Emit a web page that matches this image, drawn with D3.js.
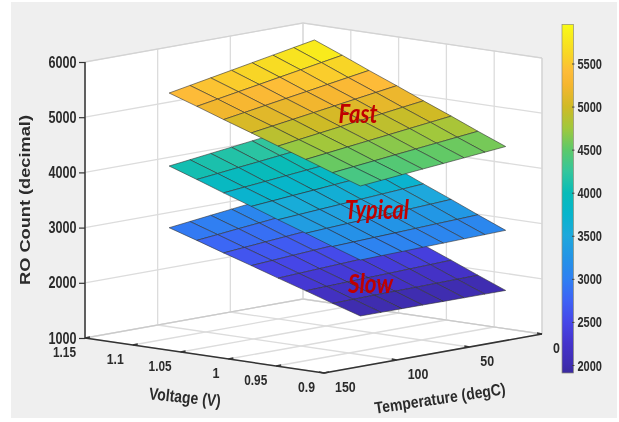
<!DOCTYPE html>
<html>
<head>
<meta charset="utf-8">
<script src="https://cdn.jsdelivr.net/npm/d3@7"></script>
<style>
html,body{margin:0;padding:0;background:#fff}
svg{display:block;filter:blur(0.45px)}
text{font-family:"Liberation Sans",Arial,sans-serif;fill:#2b2b2b}
</style>
</head>
<body>
<svg id="chart" width="619" height="422"></svg>
<script>
const temperatureTicks = [150, 100, 50, 0];
const voltageTicks = [1.15, 1.1, 1.05, 1, 0.95, 0.9];
const zTicks = [1000, 2000, 3000, 4000, 5000, 6000];
const colorbarTicks = [2000, 2500, 3000, 3500, 4000, 4500, 5000, 5500];

const temperatures = [25, 39.3, 53.6, 67.9, 82.1, 96.4, 110.7, 125];
const voltages = [1.1, 1.071, 1.043, 1.014, 0.986, 0.957, 0.929, 0.9];

const slowCounts = [
  [3320,3275,3231,3186,3141,3097,3052,3007],
  [3118,3080,3042,3004,2965,2928,2889,2851],
  [2916,2884,2853,2821,2790,2759,2727,2695],
  [2714,2689,2664,2639,2614,2590,2564,2539],
  [2512,2494,2475,2457,2439,2421,2402,2383],
  [2310,2298,2286,2274,2263,2252,2239,2227],
  [2109,2103,2098,2092,2088,2083,2077,2071],
  [1907,1908,1909,1910,1912,1913,1914,1915]
];
const typicalCounts = [
  [4450,4404,4357,4311,4264,4218,4171,4125],
  [4242,4201,4160,4119,4077,4037,3995,3954],
  [4035,3999,3963,3927,3891,3855,3819,3783],
  [3827,3796,3766,3735,3704,3674,3643,3612],
  [3619,3593,3569,3543,3517,3493,3467,3441],
  [3412,3391,3372,3351,3331,3311,3291,3270],
  [3204,3188,3175,3159,3144,3130,3115,3100],
  [2996,2986,2977,2967,2958,2948,2939,2929]
];
const fastCounts = [
  [5937,5867,5797,5727,5657,5587,5517,5447],
  [5734,5669,5604,5539,5474,5409,5344,5279],
  [5530,5470,5410,5350,5291,5231,5171,5111],
  [5327,5272,5217,5162,5108,5053,4998,4943],
  [5124,5074,5024,4974,4925,4875,4825,4775],
  [4921,4876,4831,4786,4742,4697,4652,4607],
  [4717,4677,4637,4597,4558,4518,4478,4438],
  [4514,4479,4444,4409,4375,4340,4305,4270]
];
const surfaceLabels = ["Fast", "Typical", "Slow"];
const colorStops = [1907,2000,2250,2500,2750,3000,3250,3500,3750,4000,4250,4500,4750,5000,5250,5400,5600,5953];
const colorValues = ["#3b2a9e","#3f2db0","#4533cc","#4646e8","#3e62f5","#2f80f2","#2394e6","#1ea8dc","#07b5cc","#08bcb8","#34c69c","#5cc96a","#a0c83c","#d0ba25","#f5b62f","#fdbb38","#f8d526","#f9fb15"];

const svg = d3.select("#chart");
const color = d3.scaleLinear().domain(colorStops).range(colorValues).clamp(true);

// oblique projection scales
const tX = d3.scaleLinear().domain([150, 0]).range([0, 218]);
const tY = d3.scaleLinear().domain([150, 0]).range([0, -39]);
const vX = d3.scaleLinear().domain([1.15, 0.9]).range([0, 239]);
const vY = d3.scaleLinear().domain([1.15, 0.9]).range([0, 35]);
const zY = d3.scaleLinear().domain([1000, 6000]).range([338, 62]);
const X0 = 85;
const project = (t, v, z) => [X0 + tX(t) + vX(v), zY(z) + tY(t) + vY(v)];
const line = d3.line();

svg.append("rect").attr("x", 11).attr("y", 2).attr("width", 606).attr("height", 416).attr("fill", "#efefef");

// box walls and floor
const tA = 150, tB = 0, vA = 1.15, vB = 0.9, zA = 1000, zB = 6000;
svg.append("path").attr("fill", "#fff").attr("d", line([
  project(tA, vA, zB), project(tB, vA, zB), project(tB, vB, zB),
  project(tB, vB, zA), project(tA, vB, zA), project(tA, vA, zA)
]) + "Z");

const gridG = svg.append("g").attr("fill", "none").attr("stroke", "#dcdcdc").attr("stroke-width", 1.3);
const seg = (g, pts, c, w) => g.append("path").attr("d", line(pts)).attr("stroke", c || null).attr("stroke-width", w || null);
zTicks.forEach(z => {
  seg(gridG, [project(tA, vA, z), project(tB, vA, z), project(tB, vB, z)]);
});
temperatureTicks.forEach(t => {
  seg(gridG, [project(t, vA, zA), project(t, vA, zB)]);
  seg(gridG, [project(t, vA, zA), project(t, vB, zA)]);
});
voltageTicks.forEach(v => {
  seg(gridG, [project(tB, v, zA), project(tB, v, zB)]);
  seg(gridG, [project(tA, v, zA), project(tB, v, zA)]);
});
seg(gridG, [project(tA, vA, zA), project(tB, vA, zA), project(tB, vB, zA)], "#c8c8c8", 1);
seg(gridG, [project(tA, vA, zB), project(tB, vA, zB), project(tB, vB, zB)], "#d2d2d2", 1);
seg(gridG, [project(tB, vB, zA), project(tB, vB, zB)], "#d2d2d2", 1);

// surfaces, lowest first, cells back to front
[slowCounts, typicalCounts, fastCounts].forEach(grid => {
  const g = svg.append("g").attr("stroke", "#333").attr("stroke-width", 0.6).attr("stroke-linejoin", "round");
  for (let i = 0; i < voltages.length - 1; i++) {
    for (let j = 0; j < temperatures.length - 1; j++) {
      const c = [[i, j], [i, j + 1], [i + 1, j + 1], [i + 1, j]];
      const mean = d3.mean(c, ([a, b]) => grid[a][b]);
      g.append("path")
        .attr("fill", color(mean))
        .attr("d", line(c.map(([a, b]) => project(temperatures[b], voltages[a], grid[a][b]))) + "Z");
    }
  }
});

// stretched text helper
function label(txt, x, y, opt) {
  const o = opt || {};
  const t = svg.append("text")
    .attr("transform", `translate(${x},${y}) rotate(${o.rotate || 0})`)
    .attr("text-anchor", o.anchor || "middle")
    .attr("dominant-baseline", o.baseline || "central")
    .attr("font-size", o.size || 14)
    .attr("font-weight", o.weight || 700)
    .text(txt);
  if (o.len) t.attr("textLength", o.len).attr("lengthAdjust", "spacingAndGlyphs");
  if (o.fill) t.style("fill", o.fill);
  if (o.italic) t.style("font-style", "italic");
  if (o.family) t.style("font-family", o.family);
  return t;
}

// axis lines
const axisG = svg.append("g").attr("fill", "none").attr("stroke", "#333");
const zAxis = d3.axisLeft(zY).tickValues(zTicks).tickSize(6).tickFormat("");
const zg = svg.append("g").attr("transform", `translate(${X0},0)`).call(zAxis);
zg.selectAll("line").attr("stroke", "#333").attr("stroke-width", 1.2);
zg.select(".domain").attr("stroke", "#333").attr("stroke-width", 1.5).attr("d", `M0,${zY(6000)}V${zY(1000)}`);
seg(axisG, [project(tA, vA, zA), project(tA, vB, zA), project(tB, vB, zA)], "#333", 1.5);
voltageTicks.forEach(v => {
  const p = project(tA, v, zA);
  seg(axisG, [p, [p[0] + 5, p[1] - 1]], "#333", 1.3);
  label(String(v), p[0] - 9, p[1] + 13.5, { anchor: "end", size: 15.5, len: String(v).length === 1 ? 7 : (String(v).length === 3 ? 17 : 23) });
});
temperatureTicks.forEach(t => {
  const p = project(t, vB, zA);
  seg(axisG, [p, [p[0] - 5, p[1] - 1]], "#333", 1.3);
  label(String(t), p[0] + 11, p[1] + 13, { anchor: "start", size: 15.5, len: String(t).length * 6.9 });
});
zTicks.forEach(z => {
  label(String(z), X0 - 8.5, zY(z), { anchor: "end", size: 16, len: 28 });
});

label("RO Count (decimal)", 24, 200, { rotate: -90, size: 15.5, len: 170 });
label("Voltage (V)", 185, 397.5, { rotate: 6, size: 17, len: 72 });
label("Temperature (degC)", 440, 398, { rotate: -8.5, size: 16.5, len: 132 });

// colour bar
const barY = d3.scaleLinear().domain([2000, 5500]).range([365, 63.5]);
const barX = 562, barW = 11.5;
const barTop = barY(5953), barBottom = barY(1907);
const defs = svg.append("defs");
const grad = defs.append("linearGradient").attr("id", "bar").attr("x1", 0).attr("x2", 0).attr("y1", 1).attr("y2", 0);
const span = d3.scaleLinear().domain([1907, 5953]).range([0, 1]);
colorStops.forEach((s, i) => grad.append("stop").attr("offset", span(s)).attr("stop-color", colorValues[i]));
svg.append("rect").attr("x", barX).attr("y", barTop).attr("width", barW).attr("height", barBottom - barTop)
  .attr("fill", "url(#bar)").attr("stroke", "#8f8f7a").attr("stroke-width", 0.7);
const barAxis = d3.axisRight(barY).tickValues(colorbarTicks).tickSize(2.5).tickFormat("");
const bg = svg.append("g").attr("transform", `translate(${barX + barW - 1.5},0)`).call(barAxis);
bg.select(".domain").remove();
bg.selectAll("line").attr("stroke", "#444").attr("stroke-width", 1);
colorbarTicks.forEach(v => {
  label(String(v), 577.5, barY(v), { anchor: "start", size: 15.5, len: 24.5 });
});

// surface names
const nameFont = '"Lato","Open Sans",sans-serif';
label(surfaceLabels[0], 358, 123, { baseline: "auto", size: 26, italic: true, fill: "#c00000", len: 39, family: nameFont });
label(surfaceLabels[1], 377, 219, { baseline: "auto", size: 26, italic: true, fill: "#c00000", len: 64, family: nameFont });
label(surfaceLabels[2], 370.5, 293, { baseline: "auto", size: 26, italic: true, fill: "#c00000", len: 45, family: nameFont });
</script>
</body>
</html>
